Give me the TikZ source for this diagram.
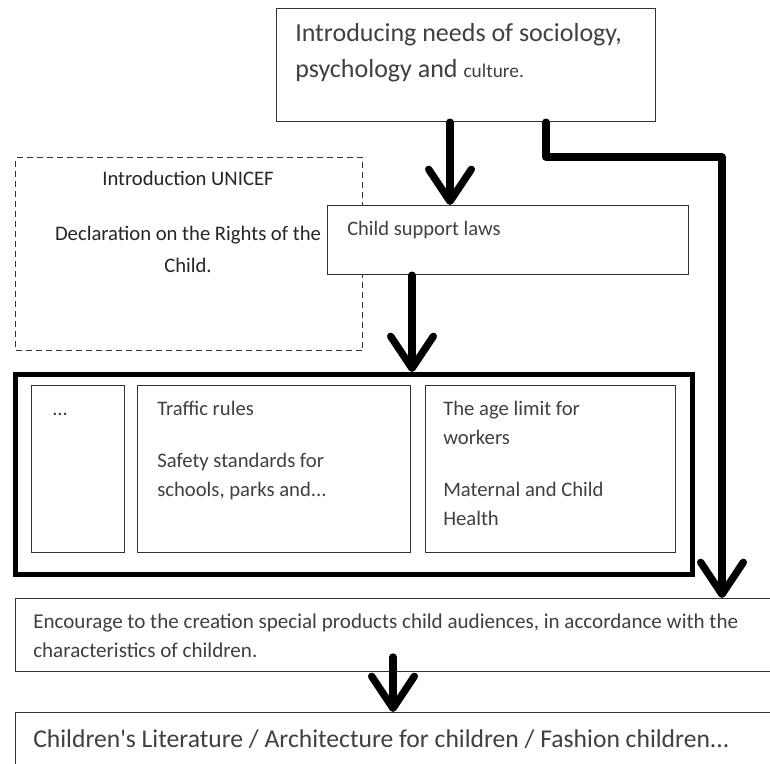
\documentclass[tikz,border=0pt]{standalone}
\usepackage{fontspec}
\setmainfont{Carlito}
\usetikzlibrary{arrows.meta,positioning}
\definecolor{inkgrey}{HTML}{404040}
\tikzset{
  box/.style={draw=black!80, line width=0.9pt, fill=white, rectangle,
    anchor=north west, inner sep=0pt},
  dashbox/.style={box, dash pattern=on 4.5pt off 3pt},
  bigbox/.style={box, draw=black, line width=4pt},
  txt/.style={anchor=base west, inner sep=0pt, text=inkgrey, align=left},
  flow/.style={line width=5.5pt, line join=round, line cap=round,
    -{Straight Barb[length=24pt,width=32pt,round]}}
}
\begin{document}
\begin{tikzpicture}[x=0.75pt,y=-0.75pt]
  \clip (0,0) rectangle (770,763);
  \fill[white] (0,0) rectangle (770,763);

  % top
  \node[box, minimum width=284.25pt, minimum height=84.75pt] (needs) at (276,8) {};
  \node[txt, font=\fontsize{19.5}{27}\selectfont] (needsTxt)
    at ([shift={(19,70)}]needs.north west)
    {Introducing needs of sociology,\\psychology and {\fontsize{14.5}{14}\selectfont culture.}};

  % unicef
  \node[dashbox, minimum width=260.25pt, minimum height=144.75pt] (unicef) at (15,157) {};
  \node[txt, anchor=base, align=center, text=black!85, font=\fontsize{15.5}{24}\selectfont] (unicefTxt)
    at (188,272)
    {Introduction UNICEF\\[17pt]Declaration on the Rights of the\\Child.};

  % laws
  \node[box, minimum width=270.75pt, minimum height=51.75pt] (laws) at (327,205) {};
  \node[txt, font=\fontsize{15.4}{20}\selectfont] (lawsTxt)
    at ([shift={(20,30)}]laws.north west) {Child support laws};

  % rules
  \node[bigbox, minimum width=507.75pt, minimum height=150pt] (rules) at (13,372) {};
  \node[box, minimum width=69.75pt, minimum height=125.25pt] (dots) at (31,385) {};
  \node[box, minimum width=204.75pt, minimum height=125.25pt] (traffic) at (137,385) {};
  \node[box, minimum width=187.5pt, minimum height=125.25pt] (age) at (425,385) {};
  \node[txt, font=\fontsize{15.5}{21.5}\selectfont] (dotsTxt)
    at ([shift={(21,30)}]dots.north west) {...};
  \node[txt, font=\fontsize{15.5}{21.5}\selectfont] (trafficTxt)
    at ([shift={(20,111)}]traffic.north west)
    {Traffic rules\\[17.5pt]Safety standards for\\schools, parks and...};
  \node[txt, font=\fontsize{15.5}{21.5}\selectfont] (ageTxt)
    at ([shift={(18,140)}]age.north west)
    {The age limit for\\workers\\[17.5pt]Maternal and Child\\Health};

  % bottom
  \node[box, minimum width=573.75pt, minimum height=54.75pt] (encourage) at (15,598) {};
  \node[txt, font=\fontsize{15.8}{21.75}\selectfont] (encourageTxt)
    at ([shift={(18,59)}]encourage.north west)
    {Encourage to the creation special products child audiences, in accordance with the\\characteristics of children.};
  \node[box, minimum width=573.75pt, minimum height=51pt] (children) at (15,712) {};
  \node[txt, font=\fontsize{19.2}{20}\selectfont] (childrenTxt)
    at ([shift={(18,35)}]children.north west)
    {Children\textquotesingle s Literature / Architecture for children / Fashion children...};

  % arrows
  \coordinate (a1) at (450,0);
  \coordinate (a2) at (546,0);
  \coordinate (bend) at (722,157);
  \coordinate (a3) at (412,0);
  \coordinate (a4) at (393,657);
  \draw[flow] (needs.south -| a1) -- (laws.north -| a1);
  \draw[flow] (needs.south -| a2) |- (bend) -- (bend |- encourage.north);
  \draw[flow] (laws.south -| a3) -- (rules.north -| a3);
  \draw[flow] (a4) -- (children.north -| a4);
\end{tikzpicture}
\end{document}
